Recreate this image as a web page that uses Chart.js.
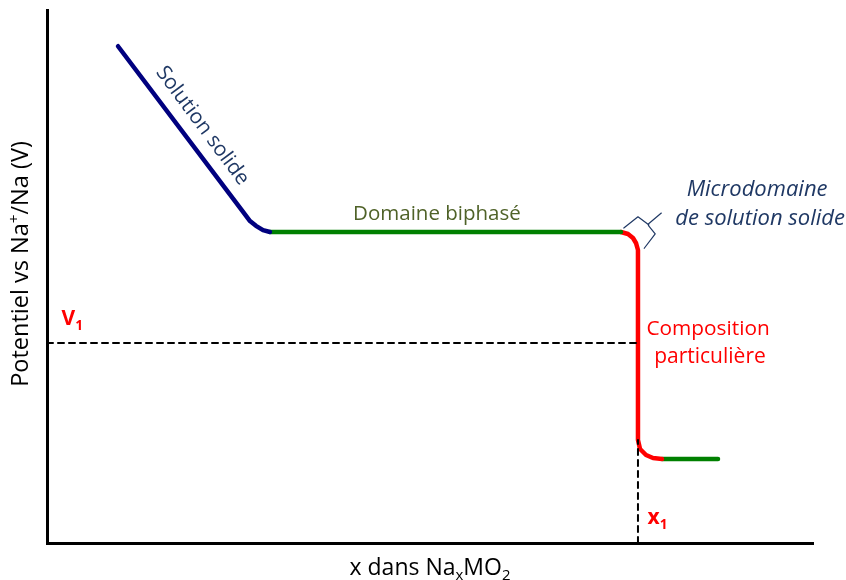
<!DOCTYPE html>
<html><head><meta charset="utf-8">
<script src="https://cdn.jsdelivr.net/npm/chart.js@4/dist/chart.umd.min.js"></script>
<style>html,body{margin:0;padding:0;background:#fff}</style>
</head><body>
<canvas id="c" width="846" height="580"></canvas>
<script>
// ---- Data (schematic units: x 0-100, potential 0-100) ----
const solidSolutionX = [9.27, 25.72, 26.50, 27.28, 28.20, 29.11];
const solidSolutionY = [93.2, 61.9, 60.4, 59.5, 58.7, 58.35];
const biphasicX = [29.11, 74.93];
const biphasicY = [58.35, 58.35];
const compositionX = [74.93, 75.85, 76.50, 76.89, 77.15, 77.15, 77.42, 78.20, 79.11, 80.29];
const compositionY = [58.35, 57.97, 57.22, 56.29, 54.97, 19.32, 17.64, 16.51, 15.95, 15.76];
const biphasic2X = [80.29, 87.60];
const biphasic2Y = [15.76, 15.76];
const v1Value = 37.52;   // V1 potential
const x1Value = 77.15;   // x1 composition
const x1Top = 19.32;
const braceX = [75.3, 77.15, 78.46, 80.2, 78.46, 78.55, 79.4, 77.97];
const braceY = [59.1, 61.2, 59.8, 61.9, 59.8, 59.5, 58.0, 55.3];

const pts = (xs, ys) => xs.map((x, i) => ({x, y: ys[i]}));

const FONT = "'Open Sans', 'Noto Sans', sans-serif";

function seg(ctx, parts, x, y, size, color, weight, style, align) {
  // parts: [text, mode] mode: 0 normal, 1 sub, 2 sup
  const f = (s) => `${style||'normal'} ${weight||'normal'} ${s}px ${FONT}`;
  let total = 0;
  parts.forEach(p => { ctx.font = f(p[1] ? size*0.65 : size); total += ctx.measureText(p[0]).width; });
  let cx = align === 'left' ? x : x - total/2;
  ctx.fillStyle = color;
  ctx.textBaseline = 'alphabetic';
  ctx.textAlign = 'left';
  parts.forEach(p => {
    const s = p[1] ? size*0.65 : size;
    ctx.font = f(s);
    const dy = p[1] === 1 ? size*0.22 : (p[1] === 2 ? -size*0.38 : 0);
    ctx.fillText(p[0], cx, y + dy);
    cx += ctx.measureText(p[0]).width;
  });
}

const labelsPlugin = {
  id: 'labels',
  afterDatasetsDraw(chart) {
    const {ctx, scales: {x, y}, chartArea} = chart;
    const X = v => x.getPixelForValue(v), Y = v => y.getPixelForValue(v);
    ctx.save();
    // Solution solide (rotated along the line)
    ctx.save();
    ctx.translate(X(20.4), Y(78.4));
    ctx.rotate(53.5 * Math.PI / 180);
    seg(ctx, [['Solution solide', 0]], 0, 7, 20.7, '#1f3864');
    ctx.restore();
    seg(ctx, [['Domaine biphasé', 0]], X(50.9), Y(58.35) - 12, 20.5, '#4f6228');
    seg(ctx, [['Microdomaine', 0]], X(92.7), Y(66.6) + 8, 22, '#1f3864', 'normal', 'italic');
    seg(ctx, [['de solution solide', 0]], X(93.1), Y(61.2) + 8, 22, '#1f3864', 'normal', 'italic');
    seg(ctx, [['Composition', 0]], X(86.3), Y(40.5) + 8, 20.8, '#ff0000');
    seg(ctx, [['particulière', 0]], X(86.55), Y(35.3) + 8, 21, '#ff0000');
    seg(ctx, [['V', 0], ['1', 1]], X(1.9), Y(v1Value) - 18, 21, '#ff0000', 'bold', 'normal', 'left');
    seg(ctx, [['x', 0], ['1', 1]], X(78.4), Y(0) - 19, 21, '#ff0000', 'bold', 'normal', 'left');
    // Axis titles
    seg(ctx, [['x dans Na', 0], ['x', 1], ['MO', 0], ['2', 1]], (chartArea.left + chartArea.right)/2, chartArea.bottom + 32, 23, '#000');
    ctx.save();
    ctx.translate(chartArea.left - 27, 264);
    ctx.rotate(-Math.PI/2);
    seg(ctx, [['Potentiel vs Na', 0], ['+', 2], ['/Na (V)', 0]], 0, 8, 23.5, '#000');
    ctx.restore();
    ctx.restore();
  }
};

const line = (data, color, width, dash) => ({
  data, showLine: true, borderColor: color, borderWidth: width, borderDash: dash || [],
  pointRadius: 0, tension: 0, borderCapStyle: 'round', borderJoinStyle: 'round', fill: false
});

new Chart(document.getElementById('c'), {
  type: 'scatter',
  data: {
    datasets: [
      line([{x: 0, y: v1Value}, {x: x1Value, y: v1Value}], '#000', 2, [6, 5]),
      line([{x: x1Value, y: 0}, {x: x1Value, y: x1Top}], '#000', 2, [6, 5]),
      line(pts(braceX, braceY), '#1f3864', 1.2),
      line(pts(solidSolutionX, solidSolutionY), '#00007f', 4.5),
      line(pts(biphasicX, biphasicY), '#008000', 4.5),
      line(pts(compositionX, compositionY), '#ff0000', 4.5),
      line(pts(biphasic2X, biphasic2Y), '#008000', 4.5)
    ]
  },
  options: {
    responsive: false, animation: false, devicePixelRatio: 1,
    layout: {padding: {left: 47, top: 10, right: 33, bottom: 37}},
    plugins: {legend: {display: false}, tooltip: {enabled: false}},
    scales: {
      x: {type: 'linear', min: 0, max: 100, ticks: {display: false},
          grid: {display: false, drawTicks: false}, border: {display: true, color: '#000', width: 3}},
      y: {type: 'linear', min: 0, max: 100, ticks: {display: false},
          grid: {display: false, drawTicks: false}, border: {display: true, color: '#000', width: 3}}
    }
  },
  plugins: [labelsPlugin]
});
</script>
</body></html>
